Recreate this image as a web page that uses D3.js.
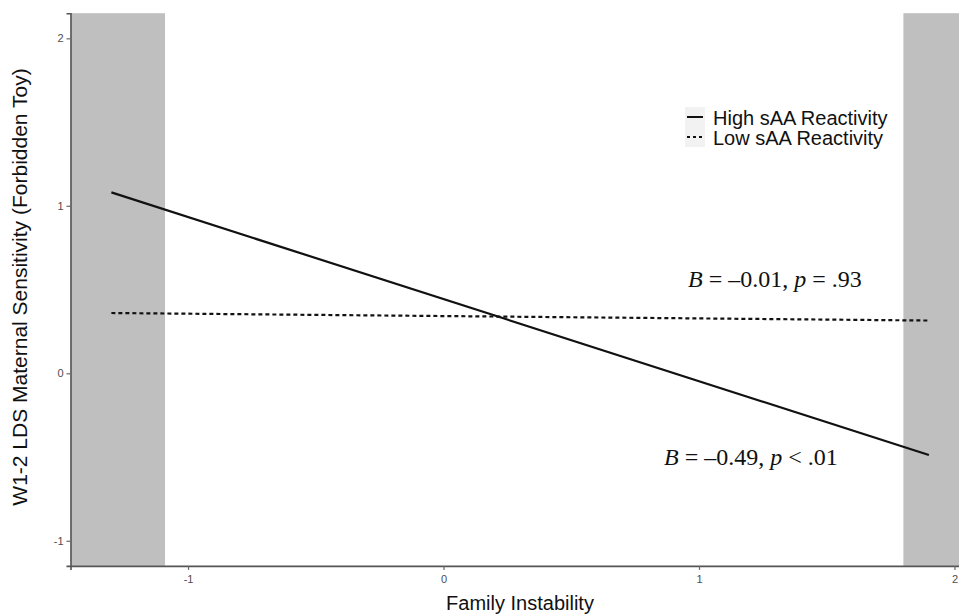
<!DOCTYPE html>
<html>
<head>
<meta charset="utf-8">
<script src="https://cdn.jsdelivr.net/npm/d3@7/dist/d3.min.js"></script>
<style>
  html, body { margin: 0; padding: 0; background: #fff; }
  svg { display: block; }
</style>
</head>
<body>
<script>
// ---- data ----
const xTicks = [-1, 0, 1, 2];
const yTicks = [-1, 0, 1, 2];
const xDomain = [-1.46, 2.02];
const yDomain = [-1.15, 2.15];
const bands = [[-1.46, -1.09], [1.8, 2.02]];
const highX = [-1.3, 1.9];
const highY = [1.08, -0.488];
const lowX = [-1.3, 1.9];
const lowY = [0.36, 0.315];
const seriesNames = ["High sAA Reactivity", "Low sAA Reactivity"];
const annotHigh = {x: 1.203, y: -0.547, parts: [["B", true], [" = \u20130.49, ", false], ["p", true], [" < .01", false]]};
const annotLow = {x: 1.297, y: 0.515, parts: [["B", true], [" = \u20130.01, ", false], ["p", true], [" = .93", false]]};

const W = 959, H = 616;
const svg = d3.select("body").append("svg").attr("width", W).attr("height", H);

const x = d3.scaleLinear().domain(xDomain).range([70.5, 959.6]);
const y = d3.scaleLinear().domain(yDomain).range([565.9, 13.2]);

// shaded regions
svg.append("g").selectAll("rect").data(bands).join("rect")
  .attr("x", d => x(d[0]))
  .attr("width", d => x(d[1]) - x(d[0]))
  .attr("y", y(yDomain[1]))
  .attr("height", y(yDomain[0]) - y(yDomain[1]))
  .attr("fill", "#bfbfbf");

// lines
const line = d3.line().x(d => x(d[0])).y(d => y(d[1]));
svg.append("path").datum(highX.map((v, i) => [v, highY[i]]))
  .attr("d", line).attr("fill", "none").attr("stroke", "#111").attr("stroke-width", 2.2);
svg.append("path").datum(lowX.map((v, i) => [v, lowY[i]]))
  .attr("d", line).attr("fill", "none").attr("stroke", "#111").attr("stroke-width", 2.2)
  .attr("stroke-dasharray", "4,3");

// axes
const axisColor = "#555";
const fmt = d => d < 0 ? "-" + Math.abs(d) : d;
const xAxis = svg.append("g").attr("transform", `translate(0,${y(yDomain[0])})`)
  .call(d3.axisBottom(x).tickValues(xTicks).tickSize(4).tickPadding(5).tickFormat(fmt));
const yAxis = svg.append("g").attr("transform", `translate(${x(xDomain[0])},0)`)
  .call(d3.axisLeft(y).tickValues(yTicks).tickSize(4).tickPadding(3).tickFormat(fmt));
[xAxis, yAxis].forEach(g => {
  g.select(".domain").attr("stroke", axisColor).attr("stroke-width", 1.6);
  g.selectAll(".tick line").attr("stroke", "#666").attr("stroke-width", 1.2);
  g.selectAll(".tick text").attr("fill", "#4d4d4d").attr("font-family", "Liberation Sans, Arial, sans-serif").attr("font-size", 11);
});

// axis titles
svg.append("text").attr("x", 520).attr("y", 610).attr("text-anchor", "middle")
  .attr("font-family", "Liberation Sans, Arial, sans-serif").attr("font-size", 20).attr("fill", "#111")
  .text("Family Instability");
svg.append("text").attr("transform", "translate(27,287) rotate(-90)").attr("text-anchor", "middle")
  .attr("font-family", "Liberation Sans, Arial, sans-serif").attr("font-size", 21).attr("fill", "#111")
  .text("W1-2 LDS Maternal Sensitivity (Forbidden Toy)");

// legend
const leg = svg.append("g").attr("transform", "translate(685,107)");
seriesNames.forEach((name, i) => {
  const g = leg.append("g").attr("transform", `translate(0,${i * 20})`);
  g.append("rect").attr("width", 20).attr("height", 20).attr("fill", "#f2f2f2");
  g.append("line").attr("x1", 2).attr("x2", 18).attr("y1", 10).attr("y2", 10)
    .attr("stroke", "#111").attr("stroke-width", 2)
    .attr("stroke-dasharray", i === 1 ? "3,3" : null);
  g.append("text").attr("x", 28).attr("y", 18)
    .attr("font-family", "Liberation Sans, Arial, sans-serif").attr("font-size", 20).attr("fill", "#111")
    .text(name);
});

// annotations
[annotLow, annotHigh].forEach(a => {
  const t = svg.append("text").attr("x", x(a.x)).attr("y", y(a.y)).attr("text-anchor", "middle")
    .attr("font-family", "Liberation Serif, Times New Roman, serif").attr("font-size", 24).attr("fill", "#111");
  a.parts.forEach(p => t.append("tspan").attr("font-style", p[1] ? "italic" : "normal").text(p[0]));
});
</script>
</body>
</html>
